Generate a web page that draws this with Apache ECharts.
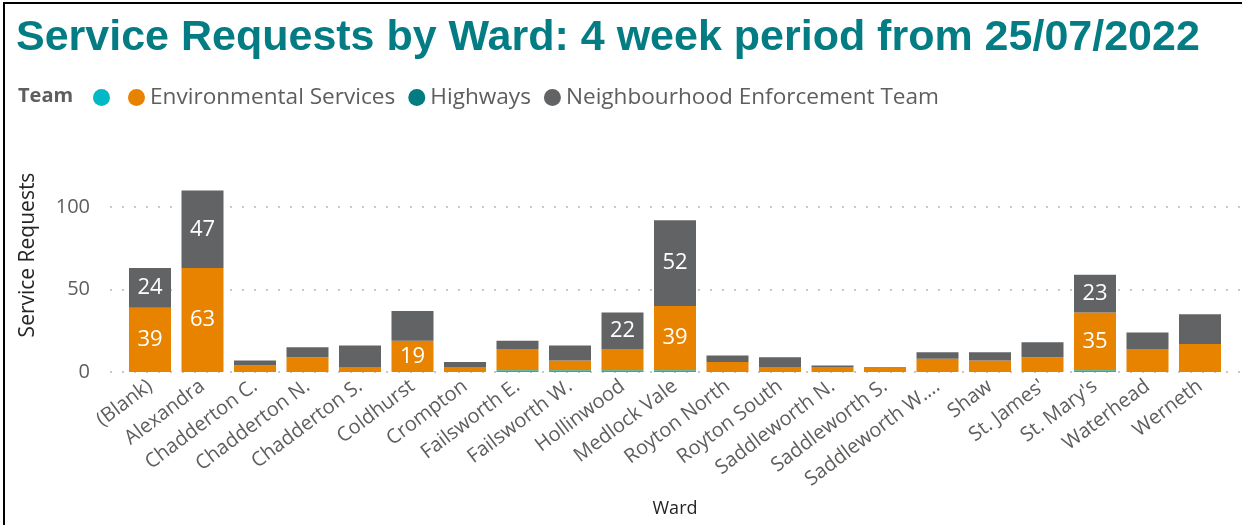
<!DOCTYPE html>
<html>
<head>
<meta charset="utf-8">
<script src="https://cdn.jsdelivr.net/npm/echarts@6/dist/echarts.min.js"></script>
<style>
html,body{margin:0;padding:0;background:#fff;}
#chart{width:1242px;height:525px;}
</style>
</head>
<body>
<div id="chart"></div>
<script>
const wards = ["(Blank)","Alexandra","Chadderton C.","Chadderton N.","Chadderton S.","Coldhurst","Crompton","Failsworth E.","Failsworth W.","Hollinwood","Medlock Vale","Royton North","Royton South","Saddleworth N.","Saddleworth S.","Saddleworth W....","Shaw","St. James'","St. Mary's","Waterhead","Werneth"];
const blankTeam      = [0,0,0,0,0,0,0,1,1,1,1,0,0,0,0,0,0,0,1,0,0];
const environmental  = [39,63,4,9,3,19,3,13,6,13,39,6,3,3,3,8,7,9,35,14,17];
const highways       = [0,0,0,0,0,0,0,0,0,0,0,0,0,0,0,0,0,0,0,0,0];
const neighbourhood  = [24,47,3,6,13,18,3,5,9,22,52,4,6,1,0,4,5,9,23,10,18];
const yTicks = [0,50,100];
const LABEL_MIN = 19;

const FONT = "'Open Sans', 'Noto Sans', sans-serif";
const chart = echarts.init(document.getElementById('chart'));

function mkSeries(name, data, color) {
  return {
    name: name, type: 'bar', stack: 'total', data: data,
    xAxisIndex: 1, yAxisIndex: 1,
    barCategoryGap: '20%',
    itemStyle: { color: color },
    label: {
      show: true, position: 'inside', color: '#ffffff',
      fontFamily: FONT, fontSize: 22,
      formatter: p => (p.value >= LABEL_MIN ? String(p.value) : '')
    },
    emphasis: { disabled: true }
  };
}

chart.setOption({
  animation: false,
  backgroundColor: '#ffffff',
  title: [
    { text: 'Service Requests by Ward: 4 week period from 25/07/2022', left: 11, top: 12,
      textStyle: { fontFamily: "'Liberation Sans', Arial, sans-serif", fontWeight: 'bold', fontSize: 43, color: '#037C84' } },
    { text: 'Team', left: 13, top: 81,
      textStyle: { fontFamily: FONT, fontWeight: 'bold', fontSize: 20, color: '#605E5C' } }
  ],
  legend: {
    left: 88, top: 81, itemWidth: 17, itemHeight: 17, itemGap: 13,
    icon: 'circle',
    textStyle: { fontFamily: FONT, fontSize: 22.6, color: '#605E5C' },
    data: ['\u200b', 'Environmental Services', 'Highways', 'Neighbourhood Enforcement Team']
  },
  grid: [
    { left: 110, right: 2, top: 190.5, bottom: 153 },
    { left: 123.75, right: 15.75, top: 190.5, bottom: 153 }
  ],
  xAxis: [
    { type: 'category', gridIndex: 0, data: wards, show: false },
    { type: 'category', gridIndex: 1, data: wards,
      axisLine: { show: false }, axisTick: { show: false },
      axisLabel: { interval: 0, rotate: 37, margin: 12, color: '#605E5C', fontFamily: FONT, fontSize: 20 },
      name: 'Ward', nameLocation: 'middle', nameGap: 128,
      nameTextStyle: { color: '#252423', fontFamily: FONT, fontSize: 18 } }
  ],
  yAxis: [
    { type: 'value', gridIndex: 0, min: 0, max: 110, interval: 50,
      axisLine: { show: false }, axisTick: { show: false },
      axisLabel: { showMaxLabel: false, margin: 20, color: '#605E5C', fontFamily: FONT, fontSize: 20,
        formatter: v => (yTicks.indexOf(v) >= 0 ? String(v) : '') },
      splitLine: { show: true, showMaxLine: false, lineStyle: { color: '#c8c8c8', width: 2, type: [2, 10] } } },
    { type: 'value', gridIndex: 1, min: 0, max: 110, interval: 50, show: false,
      splitLine: { show: false } }
  ],
  graphic: [
    { type: 'text', x: 28, y: 255, rotation: Math.PI / 2,
      style: { text: 'Service Requests', fill: '#252423', font: "21px 'Open Sans', sans-serif", textAlign: 'center', textVerticalAlign: 'middle' } },
    { type: 'rect', shape: { x: 4, y: 3, width: 1400, height: 800 }, silent: true,
      style: { fill: 'none', stroke: '#000000', lineWidth: 2 } }
  ],
  series: [
    mkSeries('\u200b', blankTeam, '#01B8C6'),
    mkSeries('Environmental Services', environmental, '#E88300'),
    mkSeries('Highways', highways, '#037B82'),
    mkSeries('Neighbourhood Enforcement Team', neighbourhood, '#626365')
  ]
});
</script>
</body>
</html>
